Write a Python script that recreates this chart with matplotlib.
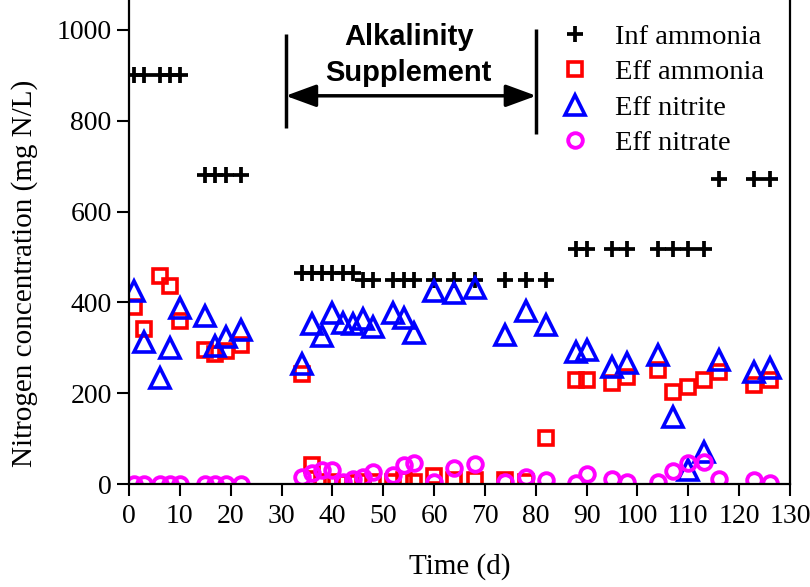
import matplotlib
matplotlib.use("Agg")
import matplotlib.pyplot as plt

plt.rcParams['font.family'] = ['Liberation Serif', 'DejaVu Serif']

# ---- data ----
inf_days = [1, 3, 6, 8, 10, 15, 17, 19, 22,
            34, 36, 38, 40, 42, 44,
            46, 48, 52, 54, 56, 60, 64, 68, 74, 78, 82,
            88, 90, 95, 98, 104, 107, 110, 113,
            116, 123, 126]
inf_ammonia = [900, 900, 900, 900, 900, 680, 680, 680, 680,
               465, 465, 465, 465, 465, 465,
               450, 450, 450, 450, 450, 450, 450, 450, 450, 450, 450,
               517, 517, 517, 517, 517, 517, 517, 517,
               672, 672, 672]

eff_days = [1, 3, 6, 8, 10, 15, 17, 19, 22,
            34, 36, 38, 40, 42, 44, 46, 48, 52, 54, 56, 60, 64, 68, 74, 78, 82,
            88, 90, 95, 98, 104, 107, 110, 113, 116, 123, 126]
eff_ammonia = [390, 341, 458, 435, 359, 295, 286, 294, 306,
               242, 42, 5, 5, 3, 3, 5, 5, 5, 8, 5, 18, 8, 8, 8, 5, 102,
               229, 229, 222, 236, 251, 203, 214, 229, 247, 218, 229]
eff_nitrite = [426, 313, 233, 299, 387, 370, 304, 324, 339,
               264, 352, 326, 377, 354, 352, 363, 345, 377, 365, 332, 424, 421, 431, 328, 381, 350,
               290, 295, 258, 266, 284, 148, 31, 71, 273, 247, 255]
eff_nitrate = [0, 0, 0, 0, 0, 0, 0, 0, 0,
               16, 25, 30, 31, 5, 11, 16, 27, 19, 41, 47, 5, 35, 43, 5, 15, 8,
               2, 22, 10, 5, 5, 29, 47, 49, 12, 9, 2]

series_labels = ['Inf ammonia', 'Eff ammonia', 'Eff nitrite', 'Eff nitrate']
x_ticks = list(range(0, 131, 10))
y_ticks = [0, 200, 400, 600, 800, 1000]

# ---- figure ----
W, H = 810, 587
fig = plt.figure(figsize=(W / 100, H / 100), dpi=100)
ax = fig.add_axes([129 / W, 1 - 484 / H, (790 - 129) / W, 484 / H])

ax.plot(inf_days, inf_ammonia, ls='none', marker='+', ms=11.5, mew=2.7,
        color='black', label=series_labels[0])
ax.plot(eff_days, eff_ammonia, ls='none', marker='s', ms=9.5, mew=2.6,
        mfc='none', mec='#ff0000', label=series_labels[1])
ax.plot(eff_days, eff_nitrite, ls='none', marker='^', ms=14, mew=2.6,
        mfc='none', mec='#0000ff', label=series_labels[2])
ax.plot(eff_days, eff_nitrate, ls='none', marker='o', ms=10.5, mew=2.8,
        mfc='none', mec='#ff00ff', label=series_labels[3])

ax.set_xlim(0, 130)
ax.set_ylim(0, 1066)
ax.set_xticks(x_ticks)
ax.set_yticks(y_ticks)
ax.tick_params(direction='out', length=8.5, width=1.5, labelsize=20, pad=4)
ax.tick_params(axis='x', pad=6)
for s in ['left', 'bottom', 'right']:
    ax.spines[s].set_linewidth(1.6)
ax.spines['top'].set_visible(False)

ax.set_xlabel('Time (d)', fontsize=21, labelpad=17)
ax.set_ylabel('Nitrogen concentration (mg N/L)', fontsize=21)
ax.yaxis.set_label_coords(-0.138, 0.435)

# alkalinity supplement annotation
ax.plot([30.8, 30.8], [785, 992], color='black', lw=2.5, solid_capstyle='butt')
ax.plot([80.1, 80.1], [771, 1002], color='black', lw=2.5, solid_capstyle='butt')
ax.annotate('', xy=(30.8, 855), xytext=(80.1, 855),
            arrowprops=dict(arrowstyle='<|-|>,head_length=0.6,head_width=0.22',
                            mutation_scale=31, lw=2.5, color='black',
                            shrinkA=0, shrinkB=0))
ax.text(55.0, 945, 'Alkalinity\nSupplement', ha='center', va='center',
        fontsize=21, fontweight='bold', family=['Liberation Sans'],
        linespacing=1.35)

leg = ax.legend(loc='upper left', bbox_to_anchor=(561 / W, 1 - 24 / H),
                bbox_transform=fig.transFigure, frameon=False, fontsize=20.5,
                handlelength=1.0, handletextpad=0.9, labelspacing=0.33,
                borderpad=0, borderaxespad=0, numpoints=1)

fig.savefig('out.png', dpi=100)
